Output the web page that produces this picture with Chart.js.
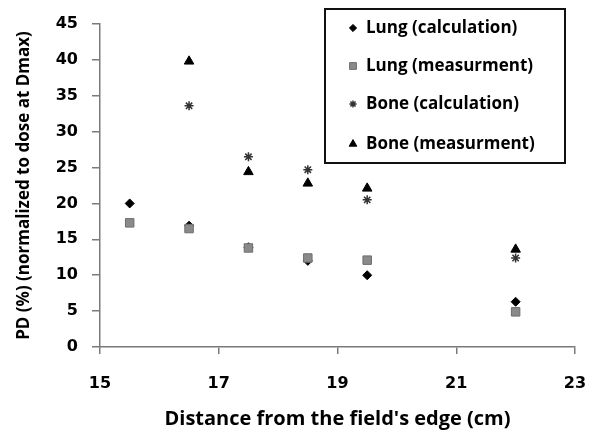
<!DOCTYPE html>
<html>
<head>
<meta charset="utf-8">
<script src="https://cdn.jsdelivr.net/npm/chart.js@4.4.1/dist/chart.umd.min.js"></script>
<style>
  html, body { margin: 0; padding: 0; background: #fff; }
  #wrap { width: 594px; height: 434px; position: relative; }
</style>
</head>
<body>
<div id="wrap"><canvas id="c" width="594" height="434"></canvas></div>
<script>
// Data
const lungCalcX = [15.5, 16.5, 17.5, 18.5, 19.5, 22];
const lungCalcY = [20.0, 16.9, 13.9, 12.0, 10.0, 6.3];
const lungMeasX = [15.5, 16.5, 17.5, 18.5, 19.5, 22];
const lungMeasY = [17.3, 16.5, 13.8, 12.4, 12.1, 4.9];
const boneCalcX = [16.5, 17.5, 18.5, 19.5, 22];
const boneCalcY = [33.6, 26.5, 24.7, 20.5, 12.4];
const boneMeasX = [16.5, 17.5, 18.5, 19.5, 22];
const boneMeasY = [39.8, 24.4, 22.8, 22.1, 13.6];
const seriesNames = ['Lung (calculation)', 'Lung (measurment)', 'Bone (calculation)', 'Bone (measurment)'];
const xTitle = "Distance from the field's edge (cm)";
const yTitle = 'PD (%) (normalized to dose at Dmax)';

const pts = (xs, ys) => xs.map((x, i) => ({ x: x, y: ys[i] }));

const tickFont = { family: 'DejaVu Sans', weight: 'bold', size: 16 };
const titleFontX = { family: 'Open Sans', weight: 'bold', size: 20 };
const titleFontY = { family: 'Open Sans', weight: 'bold', size: 17 };
const axisColor = '#7a7a7a';

const legendPlugin = {
  id: 'boxLegend',
  afterDraw(chart) {
    const ctx = chart.ctx;
    const box = { l: 325, t: 9, r: 565, b: 163 };
    ctx.save();
    ctx.fillStyle = '#fff';
    ctx.fillRect(box.l, box.t, box.r - box.l, box.b - box.t);
    ctx.strokeStyle = '#111';
    ctx.lineWidth = 2;
    ctx.strokeRect(box.l, box.t, box.r - box.l, box.b - box.t);
    const rows = [28, 66, 104, 144];
    chart.data.datasets.forEach((ds, i) => {
      const y = rows[i];
      ctx.fillStyle = ds.backgroundColor;
      ctx.strokeStyle = ds.borderColor;
      ctx.lineWidth = ds.borderWidth;
      Chart.helpers.drawPoint(ctx, { pointStyle: ds.pointStyle, radius: ds.pointRadius * 0.8, rotation: 0, borderWidth: ds.borderWidth }, 353, y);
      ctx.fillStyle = '#000';
      ctx.font = 'bold 17px "Open Sans"';
      ctx.textBaseline = 'middle';
      ctx.textAlign = 'left';
      ctx.fillText(ds.label, 366, y);
    });
    ctx.restore();
  }
};

new Chart(document.getElementById('c'), {
  type: 'scatter',
  data: {
    datasets: [
      { label: seriesNames[0], data: pts(lungCalcX, lungCalcY), pointStyle: 'rectRot', pointRadius: 4.5,
        backgroundColor: '#000', borderColor: '#000', borderWidth: 1, order: 4 },
      { label: seriesNames[1], data: pts(lungMeasX, lungMeasY), pointStyle: 'rect', pointRadius: 6,
        backgroundColor: '#8a8a8a', borderColor: '#6e6e6e', borderWidth: 1, order: 3 },
      { label: seriesNames[2], data: pts(boneCalcX, boneCalcY), pointStyle: 'star', pointRadius: 4.5,
        backgroundColor: '#333', borderColor: '#333', borderWidth: 1.5, order: 2 },
      { label: seriesNames[3], data: pts(boneMeasX, boneMeasY), pointStyle: 'triangle', pointRadius: 5.5,
        backgroundColor: '#000', borderColor: '#000', borderWidth: 1, order: 1 }
    ]
  },
  options: {
    responsive: false,
    animation: false,
    devicePixelRatio: 1,
    layout: { padding: { top: 24, right: 19, left: 0, bottom: 0 } },
    plugins: { legend: { display: false }, tooltip: { enabled: false } },
    scales: {
      x: {
        type: 'linear', min: 15, max: 23,
        afterFit(s) { s.height = 87; s.paddingLeft = 0; s.paddingRight = 0; },
        ticks: { stepSize: 2, font: tickFont, color: '#000', padding: 20 },
        grid: { drawOnChartArea: false, drawTicks: true, tickLength: 7, color: axisColor, lineWidth: 1.5 },
        border: { color: axisColor, width: 1.5 },
        title: { display: true, text: xTitle, font: titleFontX, color: '#000', padding: { top: 0, bottom: 3 } }
      },
      y: {
        type: 'linear', min: 0, max: 45,
        afterFit(s) { s.width = 100; s.paddingTop = 0; s.paddingBottom = 0; },
        ticks: { stepSize: 5, font: tickFont, color: '#000', padding: 14 },
        grid: { drawOnChartArea: false, drawTicks: true, tickLength: 8, color: axisColor, lineWidth: 1.5 },
        border: { color: axisColor, width: 1.5 },
        title: { display: true, text: yTitle, font: titleFontY, color: '#000', padding: { top: 14, bottom: 0 } }
      }
    }
  },
  plugins: [legendPlugin]
});
</script>
</body>
</html>
